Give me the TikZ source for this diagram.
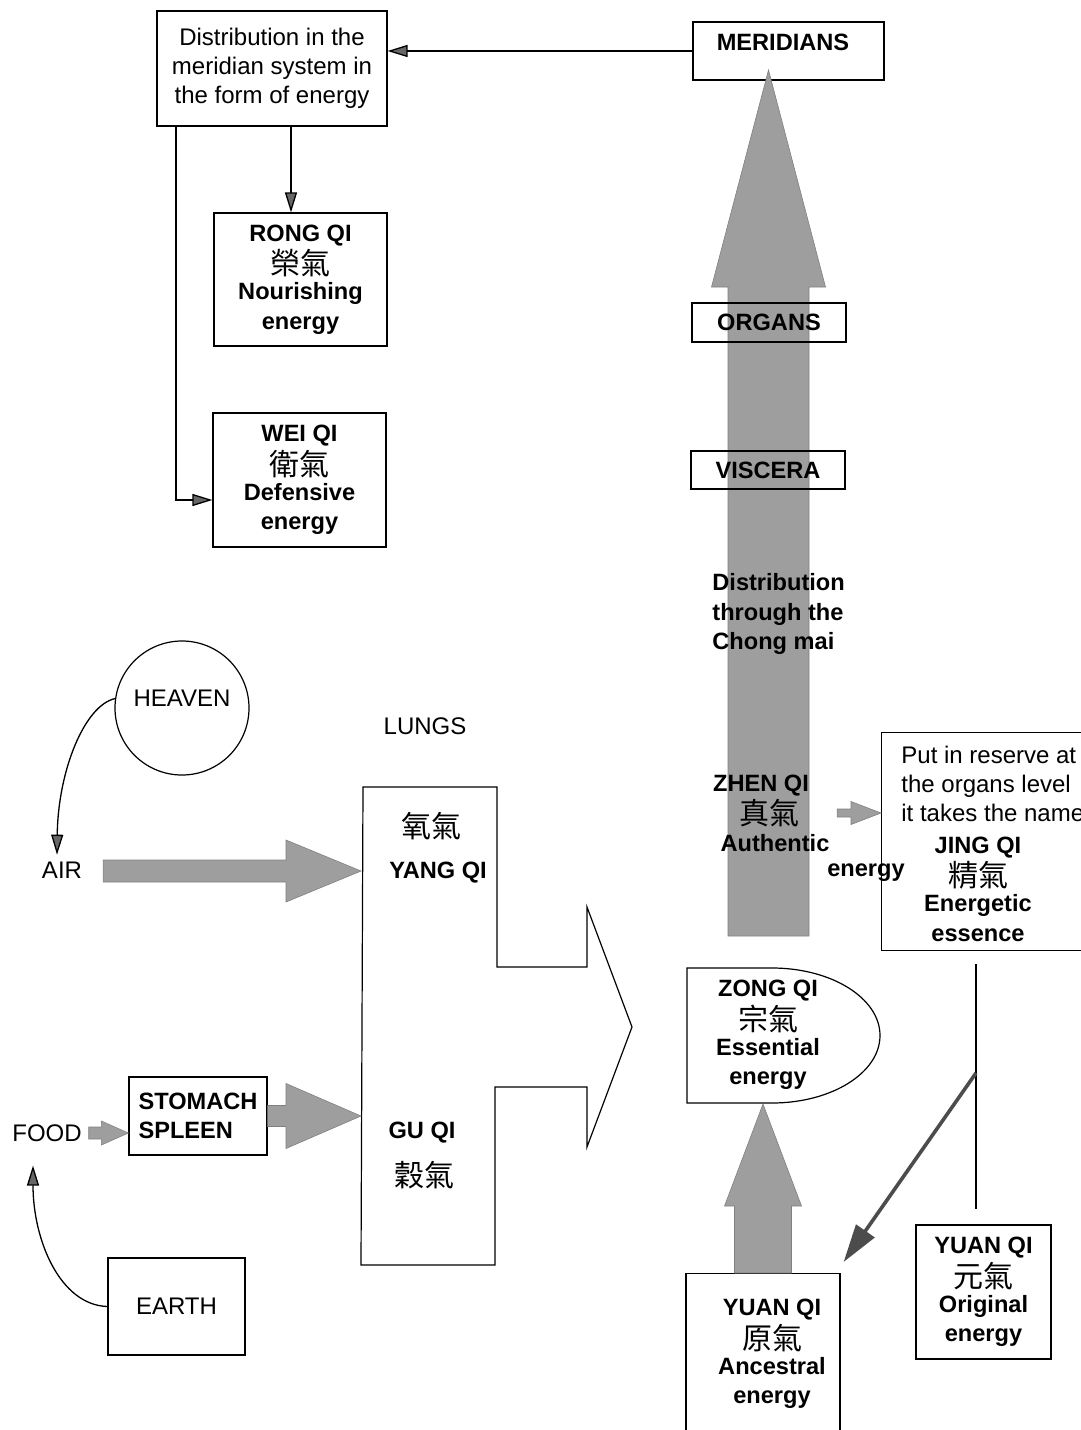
\documentclass[tikz,border=0pt]{standalone}
\usepackage{fontspec}
\setmainfont{Liberation Sans}
\newfontfamily\cjk{Noto Sans CJK TC}
\usetikzlibrary{arrows.meta,calc}
\definecolor{flowgray}{RGB}{158,158,158}
\newcommand{\qi}[1]{\raisebox{-2pt}{\cjk\mdseries\fontsize{15}{14.7}\selectfont #1}}
% block arrows: from, to, shaft half width, head half width, head length
\newcommand{\blockright}[5]{%
  \path[flow] let \p1=(#1), \p2=(#2) in
    (\x1,\y2+#3) -- (\x2-#5,\y2+#3) -- (\x2-#5,\y2+#4) -- (\x2,\y2)
    -- (\x2-#5,\y2-#4) -- (\x2-#5,\y2-#3) -- (\x1,\y2-#3) -- cycle;}
\newcommand{\blockup}[5]{%
  \path[flow] let \p1=(#1), \p2=(#2) in
    (\x2-#3,\y1) -- (\x2-#3,\y2-#5) -- (\x2-#4,\y2-#5) -- (\x2,\y2)
    -- (\x2+#4,\y2-#5) -- (\x2+#3,\y2-#5) -- (\x2+#3,\y1) -- cycle;}
\tikzset{
  box/.style={draw, line width=0.6pt, inner sep=0pt, align=center},
  txt/.style={font=\fontsize{12}{14.4}\selectfont},
  btxt/.style={font=\bfseries\fontsize{11.8}{14.7}\selectfont, align=center},
  flow/.style={fill=flowgray, draw=black!50, line width=0.3pt},
  link/.style={line width=0.65pt, -{Triangle[length=10pt,width=6pt,fill=black!60]}},
}
\begin{document}
\lineskiplimit=-20pt
\begin{tikzpicture}[x=0.5pt,y=-0.5pt]
  \useasboundingbox (0,0) rectangle (1081,1430);

  % meridians and their distribution
  \node[box, minimum width=95.5pt, minimum height=29pt] (mer) at (788.5,51) {};
  \node[btxt] (merlbl) at (783,42) {MERIDIANS};
  \node[box, txt, minimum width=115pt, minimum height=57.5pt] (dist) at (272,68.5) {Distribution in the\\meridian system in\\the form of energy};
  \node[box, btxt, minimum width=86.5pt, minimum height=66.5pt] (rong) at (300.5,279.5) {RONG QI\\\qi{榮氣}\\Nourishing\\energy};
  \node[box, btxt, minimum width=86.5pt, minimum height=67pt] (wei) at (299.5,480) {WEI QI\\\qi{衛氣}\\Defensive\\energy};
  \draw[link] (mer.west) -- (mer.west -| dist.east);
  \draw[link] (dist.south -| 291,0) -- (291,0 |- rong.north);
  \draw[link] (dist.south -| 176,0) |- ([yshift=-10pt]wei.west);

  % chong mai
  \coordinate (chong) at (768.5,936);
  \coordinate (chongtip) at (768.5,70);
  \blockup{chong}{chongtip}{20.25pt}{28.5pt}{108.5pt}
  \node[box, btxt, minimum width=77pt, minimum height=19.5pt] (organs) at (769,322.5) {ORGANS};
  \node[box, btxt, minimum width=77pt, minimum height=19pt] (viscera) at (768,470) {VISCERA};
  \node[btxt, align=left, anchor=west, inner sep=0pt] (chongmai) at (712,614) {Distribution\\through the\\Chong mai};
  \node[btxt] (zhen) at (761,786) {ZHEN QI};
  \node (zhenhz) at (769,813) {\qi{真氣}};
  \node[btxt] (authentic) at (775,843) {Authentic};
  \node[btxt] (zhenen) at (866,873) {energy};

  % jing qi
  \node[box, minimum width=120pt, minimum height=109pt, anchor=north west] (jing) at (881,732) {};
  \node[txt, align=left, anchor=west, inner sep=0pt] (reserve) at (901,784) {Put in reserve at\\the organs level\\it takes the name};
  \node[btxt] (jingqi) at (978,889) {JING QI\\\qi{精氣}\\Energetic\\essence};
  \blockright{[xshift=15.5pt]zhenhz.east}{zhenhz.east -| jing.west}{2pt}{5.75pt}{15pt}

  % zong qi and yuan qi
  \draw[line width=0.6pt] (687,968) -- (772,968) arc[start angle=90, end angle=-90, x radius=54pt, y radius=33.75pt] -- (687,1103) -- cycle;
  \node[btxt] (zong) at (768,1035) {ZONG QI\\\qi{宗氣}\\Essential\\energy};
  \coordinate (zongbot) at (763,1104);
  \node[box, minimum width=77pt, minimum height=100pt, anchor=north] (anc) at (763,1273) {};
  \node[btxt] (ancq) at (772,1354) {YUAN QI\\\qi{原氣}\\Ancestral\\energy};
  \blockup{anc.north}{zongbot}{14.25pt}{19.25pt}{51pt}
  \node[box, btxt, minimum width=67.5pt, minimum height=67pt] (orig) at (983.5,1292) {YUAN QI\\\qi{元氣}\\Original\\energy};
  \coordinate (split) at (976,1073);
  \draw[line width=0.6pt] ([yshift=-6.5pt]jing.south -| split) -- ([yshift=7.5pt]orig.north -| split);
  \draw[line width=1.8pt, black!70, -{Triangle[length=19pt,width=11pt]}] (split) -- ([xshift=1.5pt,yshift=5.5pt]anc.north east);

  % heaven and earth
  \node[draw, circle, line width=0.6pt, minimum size=67pt, inner sep=0pt, label={[txt,yshift=5pt]center:HEAVEN}] (heaven) at (182,708) {};
  \node[txt] (air) at (62,870) {AIR};
  \draw[link] (heaven.172) .. controls (85,705) and (58,770) .. ([xshift=-2.5pt]air.north);
  \node[txt] (lungs) at (425,726) {LUNGS};
  \draw[line width=0.6pt] (363,787) -- (497,787) -- (497,967) -- (587,967) -- (587,907) -- (632,1027) -- (587,1147) -- (587,1087) -- (495,1087) -- (495,1265) -- (361,1265) -- cycle;
  \coordinate (yangin) at (361,871);
  \coordinate (guin) at (361,1116);
  \node (yanghz) at (431,826) {\qi{氧氣}};
  \node[btxt] (yang) at (438,873) {YANG QI};
  \node[btxt] (gu) at (422,1133) {GU QI};
  \node (guhz) at (424,1175) {\qi{穀氣}};
  \blockright{[xshift=7pt]air.east}{yangin}{5.5pt}{15.5pt}{37.5pt}
  \node[txt] (food) at (47,1133) {FOOD};
  \node[box, btxt, align=left, minimum width=69pt, minimum height=39pt] (stom) at (198,1116) {STOMACH\\SPLEEN};
  \blockright{food.east}{stom.west |- food.east}{3pt}{6pt}{13.5pt}
  \blockright{stom.east}{guin}{5.25pt}{16.25pt}{37.5pt}
  \node[box, txt, minimum width=68.5pt, minimum height=48.5pt] (earth) at (176.5,1306.5) {EARTH};
  \draw[link] (earth.west) .. controls (60,1305) and (33,1240) .. ([xshift=-7pt,yshift=-8.5pt]food.south);
\end{tikzpicture}
\end{document}
